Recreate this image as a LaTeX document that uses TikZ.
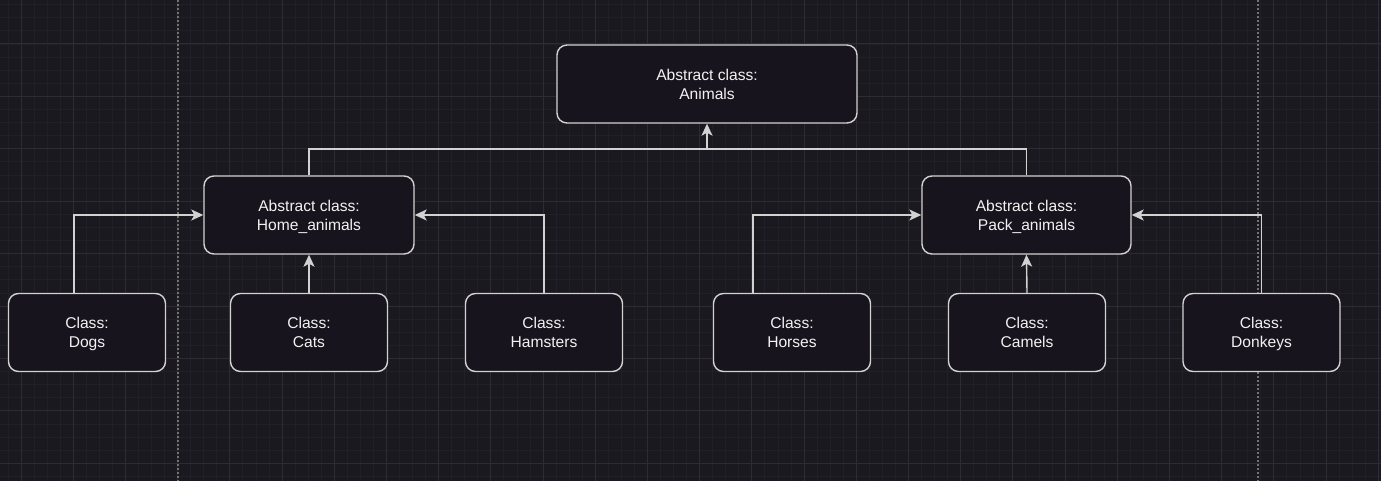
\documentclass[tikz,border=0pt]{standalone}
\usepackage{fontspec}
\setmainfont{Liberation Sans}
\usetikzlibrary{arrows.meta}
\usetikzlibrary{positioning}
\definecolor{canvas}{HTML}{1B1920}
\definecolor{boxfill}{HTML}{18141D}
\definecolor{minorgrid}{HTML}{221F28}
\definecolor{majorgrid}{HTML}{2E2B33}
\definecolor{guide}{HTML}{737373}
\definecolor{edge}{HTML}{D2D2D2}
\definecolor{label}{HTML}{F2F2F2}
\tikzset{
classbox/.style={draw=edge,fill=boxfill,line width=1.4pt,rounded corners=10pt,minimum height=78pt,minimum width=157pt,align=center,text=label,text depth=0pt,font=\fontsize{15.6}{19}\selectfont},
link/.style={draw=edge,line width=1.4pt},
arr/.style={link,-{Stealth[length=12pt,width=11pt,inset=3pt]}}
}

\begin{document}
\begin{tikzpicture}[x=1pt,y=-1pt]
\fill[canvas] (0,0) rectangle (1381,481);
\useasboundingbox (0,0) rectangle (1381,481);
\foreach \k in {-3,...,108} {
\draw[minorgrid,line width=0.8pt] (21+13.05*\k,0) -- (21+13.05*\k,481);
}
\foreach \k in {-4,...,37} {
\draw[minorgrid,line width=0.8pt] (0,44+13.1*\k) -- (1381,44+13.1*\k);
}
\foreach \k in {-1,...,26} {
\draw[majorgrid,line width=1pt] (21+52.2*\k,0) -- (21+52.2*\k,481);
}
\foreach \k in {-1,...,8} {
\draw[majorgrid,line width=1pt] (0,44+52.4*\k) -- (1381,44+52.4*\k);
}
\draw[guide,line width=1.2pt,dash pattern=on 2pt off 2pt] (178,0) -- (178,481);
\draw[guide,line width=1.2pt,dash pattern=on 2pt off 2pt] (1258,0) -- (1258,481);

\node[classbox,minimum width=300pt] (animals) at (707,84) {Abstract class:\\Animals};
\node[classbox,minimum width=210pt] (home) at (309,215) {Abstract class:\\Home\_animals};
\node[classbox,minimum width=209pt] (pack) at (1026.5,215) {Abstract class:\\Pack\_animals};

\node[classbox] (dogs) at (87,332.5) {Class:\\Dogs};
\node[classbox] (cats) at (309,332.5) {Class:\\Cats};
\node[classbox] (hamsters) at (544,332.5) {Class:\\Hamsters};
\node[classbox] (horses) at (792,332.5) {Class:\\Horses};
\node[classbox] (camels) at (1027,332.5) {Class:\\Camels};
\node[classbox] (donkeys) at (1261.5,332.5) {Class:\\Donkeys};

% tree links
\coordinate (joint) at (707,149);
\draw[link] (home.north) |- (joint) -| (pack.north);
\draw[arr] (joint) -- (animals.south);

\draw[arr] ([xshift=-13pt]dogs.north) |- (home.west);
\draw[arr] (cats.north) -- (home.south);
\draw[arr] (hamsters.north) |- (home.east);

\draw[arr] ([xshift=-39pt]horses.north) |- (pack.west);
\draw[arr] (camels.north) -- (pack.south);
\draw[arr] (donkeys.north) |- (pack.east);

\end{tikzpicture}
\end{document}
